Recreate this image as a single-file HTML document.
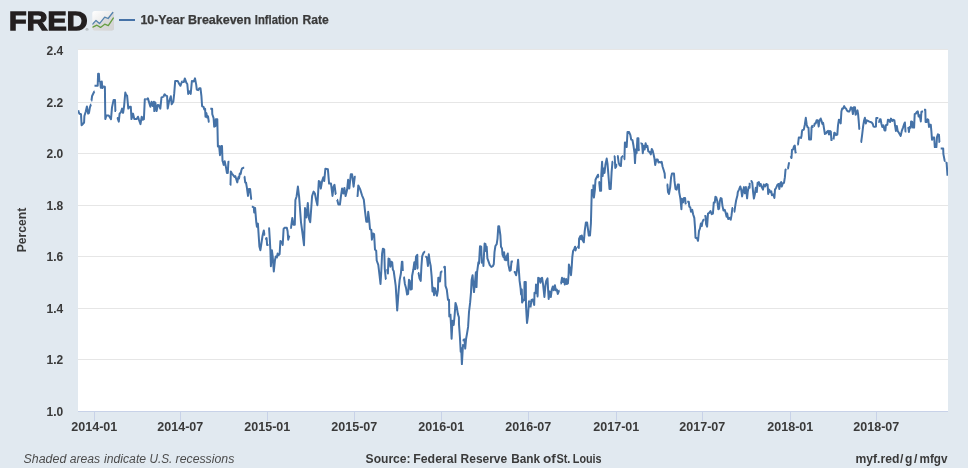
<!DOCTYPE html>
<html lang="en">
<head>
<meta charset="utf-8">
<title>10-Year Breakeven Inflation Rate</title>
<style>
html,body{margin:0;padding:0;background:#fff;}
body{width:968px;height:470px;overflow:hidden;}
svg{display:block;}
text{font-family:"Liberation Sans",sans-serif;}
.ax{font-size:12px;font-weight:bold;fill:#3a3a3a;}
.it{font-size:12px;font-style:italic;fill:#4c4c4c;}
</style>
</head>
<body>
<svg width="968" height="470" viewBox="0 0 968 470">
<defs>
<clipPath id="plotclip"><rect x="78" y="50" width="870" height="361"/></clipPath>
<clipPath id="iconclip"><rect x="92.3" y="11" width="21.7" height="19.6" rx="2.5" ry="2.5"/></clipPath>
<linearGradient id="ig" x1="0" y1="0" x2="0.9" y2="1"><stop offset="0" stop-color="#ffffff"/><stop offset="0.5" stop-color="#ececec"/><stop offset="1" stop-color="#d6d6d6"/></linearGradient>
</defs>
<rect x="0" y="0" width="968" height="470" fill="#ffffff"/>
<rect x="0" y="0" width="968" height="468" fill="#e1e9f0"/>
<rect x="78" y="50" width="870" height="361" fill="#ffffff"/>
<path d="M78 49.5 L948 49.5" stroke="#e6e6e6" stroke-width="1" fill="none"/>
<path d="M78 102.5 L948 102.5" stroke="#e6e6e6" stroke-width="1" fill="none"/>
<path d="M78 153.5 L948 153.5" stroke="#e6e6e6" stroke-width="1" fill="none"/>
<path d="M78 205.5 L948 205.5" stroke="#e6e6e6" stroke-width="1" fill="none"/>
<path d="M78 256.5 L948 256.5" stroke="#e6e6e6" stroke-width="1" fill="none"/>
<path d="M78 308.5 L948 308.5" stroke="#e6e6e6" stroke-width="1" fill="none"/>
<path d="M78 359.5 L948 359.5" stroke="#e6e6e6" stroke-width="1" fill="none"/>
<path d="M78 411.5 L948 411.5" stroke="#c8d2e8" stroke-width="1" fill="none"/>
<path d="M94.5 411 L94.5 421" stroke="#c8d2e8" stroke-width="1" fill="none"/>
<path d="M180.5 411 L180.5 421" stroke="#c8d2e8" stroke-width="1" fill="none"/>
<path d="M267.5 411 L267.5 421" stroke="#c8d2e8" stroke-width="1" fill="none"/>
<path d="M354.5 411 L354.5 421" stroke="#c8d2e8" stroke-width="1" fill="none"/>
<path d="M441.5 411 L441.5 421" stroke="#c8d2e8" stroke-width="1" fill="none"/>
<path d="M528.5 411 L528.5 421" stroke="#c8d2e8" stroke-width="1" fill="none"/>
<path d="M616.5 411 L616.5 421" stroke="#c8d2e8" stroke-width="1" fill="none"/>
<path d="M702.5 411 L702.5 421" stroke="#c8d2e8" stroke-width="1" fill="none"/>
<path d="M790.5 411 L790.5 421" stroke="#c8d2e8" stroke-width="1" fill="none"/>
<path d="M876.5 411 L876.5 421" stroke="#c8d2e8" stroke-width="1" fill="none"/>
<g clip-path="url(#plotclip)"><path d="M78.2 110.5 L78.7 111.7 M78.0 110.5 L79.5 113.8 L81.0 114.2 L81.6 125.3 L82.8 124.1 L84.1 122.5 L84.4 116.0 L85.7 111.7 L86.9 106.4 L88.1 113.6 L89.0 112.9 L89.9 107.4 L90.9 104.6 L91.2 104.6 M91.2 100.5 L91.5 100.5 L92.1 96.0 L94.3 91.5 L94.6 91.5 M94.5 85.8 L95.2 85.8 L97.7 85.8 L98.1 73.7 L98.9 73.7 L99.3 80.9 L100.2 81.9 L100.8 87.7 L101.8 81.5 L102.3 88.1 L103.0 87.2 M103.3 86.8 L103.5 86.5 L104.8 86.8 L104.9 86.9 L105.3 119.1 L106.4 115.4 L108.5 115.4 L109.5 116.7 L111.0 119.1 L112.0 107.4 L113.6 99.9 L115.0 99.9 L115.4 111.1 L116.0 111.1 M116.9 117.9 L117.5 117.9 L118.8 121.6 L119.6 113.6 L120.9 112.3 L122.1 108.6 L123.1 112.9 L124.1 106.1 L125.3 92.5 L126.2 95.0 L127.1 95.6 L128.3 108.6 L129.6 106.7 L130.8 106.7 L131.5 119.1 L133.0 113.6 L134.3 119.1 L136.7 119.1 L138.0 116.7 L139.0 119.8 L140.5 124.1 L141.7 116.7 L142.9 119.8 L143.9 119.1 L144.8 99.3 L145.9 99.3 M146.2 99.3 L146.7 99.3 L147.9 98.4 L149.1 102.4 L150.4 106.7 L151.6 101.8 L152.9 106.1 L153.9 101.8 L154.3 111.1 L155.3 102.4 L156.6 111.1 L157.8 104.9 L159.1 105.5 L160.3 108.6 L161.5 97.4 L163.0 96.9 M163.3 96.8 L163.4 96.8 L164.6 94.3 L165.9 95.6 L167.1 96.2 L167.7 108.6 L169.0 101.8 L170.8 96.2 L171.7 104.3 L173.3 101.8 L174.2 93.7 L175.2 80.9 L177.7 80.9 L178.9 83.4 L180.4 85.8 L182.0 81.5 L182.5 81.7 M182.8 81.8 L183.9 82.1 L184.8 78.4 L186.3 82.7 L187.3 84.0 L188.2 93.9 L189.4 91.4 L190.7 93.9 L191.9 80.9 L193.8 81.5 L195.0 78.4 L196.2 84.6 L196.8 89.6 L198.1 90.2 L199.3 88.3 L200.5 88.3 L201.4 95.8 L202.1 106.3 L203.6 106.9 L204.3 109.4 L205.1 108.8 L205.5 116.8 L206.4 113.1 L207.1 117.4 L208.0 116.2 L208.8 121.8 L209.4 121.8 M210.3 108.8 L210.8 108.8 L212.1 108.8 L212.3 114.3 L213.6 118.1 L214.2 126.7 L215.4 126.1 L215.8 119.3 L217.3 119.3 L217.9 146.6 L219.1 146.0 L220.0 155.2 L221.2 146.0 L222.0 146.0 L222.5 160.8 L222.9 161.8 L223.7 164.9 L224.7 161.2 L226.0 167.4 L226.9 172.9 L227.8 172.9 L228.4 161.8 L229.4 161.8 M230.3 185.0 L230.5 185.0 L230.8 171.4 L231.9 173.5 L233.2 175.2 L234.5 176.9 L235.3 176.1 L236.2 179.0 L237.3 182.4 L237.9 179.0 L238.5 176.9 L239.0 178.6 L239.8 173.5 L240.7 173.9 L241.3 170.5 L242.1 168.4 L243.6 167.8 L244.2 167.8 M244.1 176.7 L244.5 176.7 L245.2 182.5 L246.0 182.5 L246.8 187.2 L248.0 195.9 L248.9 189.0 L250.1 189.0 L251.2 199.0 L251.8 199.0 M251.8 206.8 L252.6 206.8 L253.8 207.4 L254.2 212.4 L255.1 208.1 L256.3 222.3 L256.9 226.7 L257.9 223.6 L258.8 237.2 L259.4 246.5 L260.4 250.2 L261.3 244.0 L262.5 236.0 L263.8 230.4 L264.4 234.7 L265.1 234.7 M265.1 238.7 L265.8 238.7 L266.6 238.1 L267.1 245.0 L268.1 245.0 L268.5 245.0 M268.4 228.3 L269.1 228.3 L269.8 239.2 L270.4 250.7 L270.9 266.3 L271.9 250.2 L272.7 256.5 L273.8 271.4 L275.0 259.9 L275.8 256.5 L276.4 257.7 M276.7 258.2 L277.6 253.6 L278.4 255.3 L279.6 254.2 L280.4 241.0 L281.9 242.1 L282.7 245.0 L283.6 228.9 L284.7 227.7 L286.8 227.7 L287.6 231.2 L288.2 239.8 L289.3 235.8 L289.4 235.8 M290.3 227.9 L291.0 227.9 L292.3 218.0 L293.5 224.8 L294.8 224.8 L295.4 200.0 L296.6 196.5 L297.9 186.6 L299.1 196.5 L301.0 222.3 L302.2 231.0 L304.0 245.2 L305.0 208.1 L306.5 217.4 L307.8 203.1 L309.0 218.6 L310.2 222.3 L311.2 208.7 L312.1 196.0 L313.6 191.6 L314.9 193.5 L316.1 199.7 L317.4 205.2 L318.8 181.1 L319.8 181.7 L320.8 188.5 L322.1 181.1 L323.3 177.4 L324.2 181.1 L325.4 168.7 L327.9 169.3 L329.1 183.6 L331.0 183.6 L332.5 196.0 L333.5 186.7 L334.5 184.8 L335.7 194.1 L336.1 194.1 M337.0 199.7 L337.2 199.7 L338.4 204.6 L339.9 204.6 L340.9 196.6 L342.1 188.5 L343.4 193.5 L344.4 187.9 L345.6 196.0 L347.1 189.8 L348.1 179.8 L349.3 188.5 L350.8 174.3 L352.1 174.3 L353.6 186.7 L354.8 176.7 L355.7 176.7 M356.6 196.0 L357.6 196.0 L358.3 185.4 L360.1 189.1 L362.0 195.3 L363.8 199.7 L365.1 211.8 L366.3 221.7 L367.6 221.7 L368.2 211.8 L369.2 219.8 L370.0 229.1 L371.3 229.8 L371.9 239.7 L372.9 233.5 L374.1 234.1 L375.0 249.6 L376.2 250.8 L376.7 260.5 L378.3 264.8 L379.6 276.0 L380.5 284.0 L381.3 271.0 L382.1 253.6 L382.9 248.7 L384.2 249.3 L384.8 269.1 L385.8 279.0 L386.2 279.0 M387.1 269.1 L387.9 273.5 L388.5 258.6 L389.5 259.2 L390.4 266.7 L391.2 261.7 L392.2 262.3 L392.9 269.8 L393.7 271.0 L394.7 278.4 L395.7 285.9 L397.2 310.4 L398.7 289.9 L399.7 279.7 L400.9 273.5 L401.9 261.7 L402.4 261.7 L402.8 271.0 L402.8 271.0 M403.7 277.2 L404.0 277.2 L404.9 284.0 L406.1 288.3 L407.1 294.5 L408.1 293.9 L409.0 279.7 L409.8 280.9 L410.6 289.6 L411.8 289.0 L412.1 276.0 L413.3 269.8 L414.3 262.3 L415.2 269.1 L416.0 256.7 L417.3 254.9 L417.6 268.5 L418.1 268.5 M418.0 272.9 L418.5 272.9 L419.5 278.4 L420.7 280.9 L421.4 266.7 L422.2 256.1 L423.5 253.0 L424.5 251.8 L425.2 251.8 M425.2 256.7 L425.7 256.7 L426.9 257.4 L427.9 266.0 L428.8 254.3 L429.7 261.1 L430.7 266.0 L431.7 277.2 L432.5 291.4 L433.4 287.7 L434.1 295.2 L435.0 288.3 L435.9 292.1 L436.9 295.8 L437.9 290.2 L438.3 277.8 L439.3 277.8 M439.7 279.7 L440.0 281.5 L440.8 272.2 L441.6 271.6 L442.4 271.6 M443.3 267.3 L443.7 267.3 L444.9 266.7 L445.5 285.9 L446.8 289.6 L448.0 299.8 L449.0 299.8 L449.3 316.6 L449.5 316.6 M450.4 313.9 L451.0 324.4 L451.6 338.7 L452.5 320.7 L453.7 325.0 L454.7 314.5 L455.5 302.9 L456.7 306.7 L457.9 314.1 L458.9 317.2 L459.0 324.4 L459.9 336.8 L460.7 351.7 L461.2 348.0 L461.9 364.1 L462.8 348.0 L463.2 344.2 M463.5 341.4 L463.6 339.9 L464.4 339.3 L465.2 348.6 L466.1 338.7 L467.1 333.1 L468.1 326.9 L469.0 312.0 L470.1 302.9 L471.0 292.4 L471.6 280.0 L472.6 275.3 L473.1 282.1 L474.0 292.1 L475.0 282.1 L475.9 272.2 L476.5 287.1 L477.1 272.2 L478.4 262.3 L479.0 263.6 L480.0 246.2 L481.2 246.7 L481.8 262.8 L482.4 262.8 M483.3 263.4 L483.4 265.9 L483.9 256.0 L484.6 243.6 L485.5 244.2 L485.9 251.0 L486.7 246.7 L487.4 258.4 L488.3 260.9 L489.8 265.2 L491.3 266.9 L492.9 266.1 L493.8 264.0 L494.5 252.2 L495.4 246.0 L496.7 244.2 L497.5 238.6 L498.3 226.2 L499.1 226.2 L500.4 235.5 L501.0 246.7 L502.0 248.5 L502.5 254.7 L503.5 257.2 L504.1 252.2 L504.7 259.7 L505.7 256.6 L506.2 260.3 L506.9 256.0 L507.8 253.5 L508.4 264.6 L509.7 270.8 L510.7 270.2 L511.5 261.5 L512.9 261.5 M513.8 272.1 L514.9 272.1 L516.1 275.2 L517.1 269.6 L518.1 259.7 L519.0 272.1 L519.6 280.9 L520.6 288.3 L521.1 294.5 L521.8 289.6 L522.1 302.6 L523.6 299.5 L524.3 300.1 L524.5 282.1 L525.8 282.1 L526.0 305.7 L527.0 323.0 L528.0 315.6 L528.9 302.0 L529.5 300.7 L529.6 300.7 M530.5 307.5 L531.4 300.1 L532.6 299.5 L533.5 302.0 L534.2 305.0 L534.5 292.7 L535.7 293.3 L536.0 284.6 L536.9 285.2 L537.6 296.4 L538.2 277.8 L539.4 278.4 L540.4 282.7 L541.3 278.4 L542.1 277.8 L543.1 284.6 L544.4 297.0 L545.4 285.8 L546.2 280.9 L547.5 278.4 L548.1 289.6 L548.7 298.9 L549.6 291.4 L550.8 297.0 L551.8 289.6 L552.8 286.5 L553.7 290.2 L554.9 285.2 L555.8 290.2 L556.8 289.6 L557.8 293.9 L559.0 290.8 L559.6 290.8 M560.5 283.4 L561.1 283.4 L562.0 277.8 L563.0 282.1 L564.0 278.4 L564.8 284.6 L566.1 279.0 L566.7 284.0 L567.9 283.4 L568.6 274.7 L568.9 264.6 L570.2 269.6 L571.0 275.2 L571.7 267.1 L572.3 257.2 L573.1 251.0 L574.1 249.1 L575.1 246.7 L575.6 250.4 L576.3 247.3 M577.2 246.7 L577.9 246.7 L578.8 247.9 L579.1 238.6 L580.3 236.1 L581.0 239.2 L581.8 235.5 L582.8 240.5 L583.8 242.3 L584.7 231.2 L585.9 222.5 L587.1 222.5 L588.0 229.3 L588.8 235.5 L590.0 235.5 L590.9 223.5 L591.4 204.9 L591.8 190.0 L592.5 190.0 M593.4 184.6 L593.4 184.6 L593.4 194.5 L593.9 197.6 L594.9 189.6 L595.5 179.7 L596.7 177.2 L598.0 174.7 L598.3 177.2 L598.7 177.2 M598.6 182.1 L599.2 182.1 L600.1 190.8 L601.1 190.8 L601.3 174.7 L602.1 161.7 L602.6 176.0 L603.6 168.5 L604.5 172.9 L605.4 164.8 L606.7 158.6 L607.5 163.6 L608.5 176.0 L609.5 189.0 L610.7 189.0 L611.6 172.2 L612.5 161.7 L613.0 161.7 M613.9 156.1 L614.1 156.1 L614.7 156.7 L615.3 167.9 L616.2 166.7 L616.3 163.6 M617.2 156.1 L617.8 156.1 L618.7 162.9 L619.7 165.4 L620.9 166.0 L621.5 157.4 L622.8 156.1 L623.0 156.1 M623.9 159.2 L624.4 159.2 L624.9 142.5 L626.0 142.7 L626.7 147.0 L627.5 132.1 L629.1 132.1 L630.4 135.2 L631.2 139.6 L632.5 140.2 L633.5 145.8 L634.5 153.2 L635.0 163.1 L635.7 149.5 L636.6 153.2 L637.4 138.3 L638.4 138.3 L638.7 150.1 L639.6 150.7 M640.5 143.3 L640.9 143.3 L642.1 143.9 L642.8 153.2 L643.6 145.8 L644.6 149.5 L645.6 143.3 L646.5 147.0 L647.4 145.8 L648.3 151.3 L649.6 152.0 L650.8 154.4 L651.8 148.9 L652.7 150.7 L653.6 154.4 L654.5 158.8 L655.2 165.0 L656.4 159.4 L657.6 159.4 L658.5 162.5 L659.5 161.9 L660.7 162.5 L661.7 161.9 L662.6 166.8 L663.8 170.5 L664.7 173.6 L664.9 177.8 L665.8 177.8 M666.7 184.6 L667.4 184.6 L668.0 192.1 L669.0 193.9 L670.2 187.1 L671.1 177.2 L672.0 173.5 L674.0 173.5 L674.5 180.9 L675.5 189.0 L676.7 189.6 L677.7 184.6 L678.9 184.6 L679.2 192.1 L680.2 197.6 L680.4 198.7 L681.4 209.2 L681.9 198.7 L683.1 202.4 L683.9 198.1 L685.1 198.1 L685.6 203.6 L686.3 203.0 M687.2 201.8 L687.9 201.8 L688.8 201.8 L689.3 206.7 L690.3 207.4 L691.0 211.7 L692.2 209.8 L693.1 214.2 L694.3 217.9 L695.0 227.2 L695.5 237.7 L697.1 238.3 L698.0 240.8 L699.0 230.9 L700.0 228.4 L700.9 223.5 L701.8 226.0 L702.4 222.2 L703.4 219.8 L704.4 219.8 M704.4 216.0 L704.6 216.0 L705.5 216.0 L706.1 224.1 L707.1 226.6 L708.0 213.6 L709.2 212.9 L710.5 211.1 L711.7 214.2 L712.9 213.6 L713.8 202.4 L714.8 202.4 L715.4 196.8 L716.3 197.4 L717.3 201.2 L718.3 209.2 L719.1 208.6 L719.8 201.2 L720.7 198.1 L721.6 198.7 L722.5 206.1 L723.5 210.5 L724.7 209.8 L725.7 212.9 L726.6 216.7 L727.2 213.6 L728.2 219.1 L729.4 217.9 L730.7 219.8 L731.5 215.4 L732.4 208.0 L733.0 208.0 M733.9 211.7 L734.4 211.7 L735.2 206.1 L736.1 200.5 L737.4 195.6 L737.8 192.1 L739.0 189.6 L740.3 186.5 L741.2 189.6 L742.1 196.4 L743.1 190.8 L744.0 187.1 L744.9 193.3 L745.9 187.1 L747.1 198.3 L747.7 192.1 L748.6 187.1 L749.6 187.7 L749.7 182.8 M750.6 180.9 L751.4 180.9 L752.3 182.8 L753.1 192.1 L753.9 198.6 L754.8 194.5 L755.8 187.7 L756.8 192.1 L757.6 182.8 L758.9 182.1 L759.8 185.9 L760.7 184.0 L761.7 187.1 L763.0 189.6 L763.8 184.6 L765.1 186.5 L766.3 184.0 L767.6 184.6 L768.2 193.9 L769.2 189.6 L770.4 192.1 L771.3 191.4 L771.9 195.2 L772.4 195.0 M771.7 194.2 L773.4 194.5 L774.4 198.0 L775.0 189.6 L776.2 187.7 L777.5 184.6 L778.7 184.0 L779.3 189.0 L780.3 183.4 L781.2 182.1 L781.8 186.5 L782.8 183.4 L784.0 182.8 L784.9 177.2 L785.5 169.8 L786.4 169.1 M787.3 168.5 L788.0 168.5 L789.0 162.9 L789.7 162.9 M790.6 156.1 L790.7 156.1 L791.5 158.0 L792.0 149.9 L793.2 149.3 L794.0 146.2 L794.8 145.6 L795.5 152.4 L796.4 151.8 M797.3 144.4 L798.0 144.4 L798.8 137.6 L800.0 137.4 L801.0 138.0 L801.5 136.1 L802.0 131.2 L802.3 130.2 L803.8 129.6 L804.8 124.7 L805.8 117.8 L806.7 124.7 L807.5 127.1 L808.5 127.8 L809.1 139.5 L811.0 139.5 L811.6 127.1 L812.2 125.9 L813.1 127.8 M814.0 125.9 L814.1 125.9 L814.7 123.4 L815.7 123.4 L816.6 120.3 L817.8 120.3 L818.7 126.5 L819.4 120.9 L820.7 118.5 L821.5 120.9 L822.4 124.0 L823.1 122.8 L824.0 128.4 L824.9 134.0 L826.1 133.3 L827.1 131.5 L828.1 130.9 L829.0 134.6 L829.8 130.9 L830.8 131.5 L831.4 140.1 L832.3 139.5 L832.6 139.5 M833.5 138.9 L833.6 138.9 L834.3 132.7 L835.2 133.3 L836.0 135.2 L837.3 134.6 L838.0 125.3 L838.9 119.7 L839.8 120.3 L840.7 123.4 L841.4 111.6 L842.2 108.5 L843.2 108.5 L844.2 106.1 L845.1 107.9 L846.0 108.5 L846.9 110.4 L848.2 111.6 L849.2 111.6 L850.0 109.8 L850.9 107.3 L851.9 107.9 L852.9 114.1 L853.8 107.3 L855.0 107.3 L855.6 114.7 L856.6 112.9 L857.5 110.4 L858.1 114.1 L858.7 120.9 L859.3 129.0 L859.8 129.0 M860.7 142.0 L861.2 142.0 L862.1 135.2 L863.1 126.5 L864.0 120.9 L864.9 117.8 L865.8 123.4 L866.8 120.3 L868.0 120.9 L869.3 121.6 L871.1 122.2 L871.8 122.6 L872.7 123.8 L873.5 126.6 L874.8 126.9 L875.9 126.6 L876.3 118.0 L878.0 117.9 L878.3 117.9 M878.3 122.0 L879.0 122.0 L879.9 119.2 L880.6 119.2 L881.4 123.7 L882.3 127.0 L883.4 125.3 L884.5 130.4 L885.4 130.4 L885.9 125.3 L887.3 124.8 L887.9 119.8 L889.2 120.3 L890.1 122.0 L891.0 118.6 L892.4 120.9 L893.5 119.8 L894.4 120.3 L895.1 125.9 L895.9 130.9 L896.8 125.9 L897.7 130.9 L899.0 133.1 L900.7 135.9 L901.8 130.9 L903.0 127.6 L904.1 124.2 L904.9 122.5 L905.5 131.5 L906.4 131.5 M907.4 128.1 L907.4 128.1 L908.5 128.1 L908.9 132.0 L909.6 127.0 L910.8 127.6 L911.1 121.4 L912.2 122.0 L913.0 127.6 L914.1 127.6 L914.7 114.2 L915.8 113.6 L916.9 111.9 L917.8 111.4 L918.6 116.4 L919.7 115.3 L920.8 121.4 L921.4 111.9 L922.3 111.4 L923.1 111.4 M924.0 109.7 L925.3 109.7 L925.6 122.0 L926.7 122.0 L927.5 119.2 L928.3 119.8 L929.0 127.0 L929.7 124.8 L930.8 124.8 L931.4 131.5 L932.0 139.8 L933.1 137.6 L934.2 137.6 L934.8 147.1 L936.4 147.1 L937.0 137.0 L937.9 134.3 L939.0 134.8 L939.4 142.1 L939.8 142.1 M940.7 148.5 L943.2 148.5 L943.4 154.1 L944.7 160.9 L945.5 160.9 M945.5 162.7 L946.6 162.7 L947.5 175.7" fill="none" stroke="#4572a7" stroke-width="2" stroke-linejoin="round" stroke-linecap="butt"/></g>
<text class="ax" x="63.3" y="55.2" text-anchor="end">2.4</text>
<text class="ax" x="63.3" y="107.2" text-anchor="end">2.2</text>
<text class="ax" x="63.3" y="158.2" text-anchor="end">2.0</text>
<text class="ax" x="63.3" y="210.2" text-anchor="end">1.8</text>
<text class="ax" x="63.3" y="261.2" text-anchor="end">1.6</text>
<text class="ax" x="63.3" y="313.2" text-anchor="end">1.4</text>
<text class="ax" x="63.3" y="364.2" text-anchor="end">1.2</text>
<text class="ax" x="63.3" y="416.2" text-anchor="end">1.0</text>
<text class="ax" x="71.3" y="431" textLength="46.0" lengthAdjust="spacingAndGlyphs">2014-01</text>
<text class="ax" x="157.3" y="431" textLength="46.0" lengthAdjust="spacingAndGlyphs">2014-07</text>
<text class="ax" x="244.3" y="431" textLength="46.0" lengthAdjust="spacingAndGlyphs">2015-01</text>
<text class="ax" x="331.3" y="431" textLength="46.0" lengthAdjust="spacingAndGlyphs">2015-07</text>
<text class="ax" x="418.3" y="431" textLength="46.0" lengthAdjust="spacingAndGlyphs">2016-01</text>
<text class="ax" x="505.3" y="431" textLength="46.0" lengthAdjust="spacingAndGlyphs">2016-07</text>
<text class="ax" x="593.3" y="431" textLength="46.0" lengthAdjust="spacingAndGlyphs">2017-01</text>
<text class="ax" x="679.3" y="431" textLength="46.0" lengthAdjust="spacingAndGlyphs">2017-07</text>
<text class="ax" x="767.3" y="431" textLength="46.0" lengthAdjust="spacingAndGlyphs">2018-01</text>
<text class="ax" x="853.3" y="431" textLength="46.0" lengthAdjust="spacingAndGlyphs">2018-07</text>
<text class="ax" x="-22.3" y="0" transform="translate(26.3 230) rotate(-90)" textLength="44.6" lengthAdjust="spacingAndGlyphs">Percent</text>
<text x="9.1" y="30.1" font-size="26.6" font-weight="bold" fill="#231f20" stroke="#231f20" stroke-width="1.3" stroke-linejoin="miter" textLength="78.4" lengthAdjust="spacingAndGlyphs">FRED</text>
<text x="85.6" y="31" font-size="4.2" fill="#555">®</text>
<rect x="92.3" y="11" width="21.7" height="19.6" rx="2.5" ry="2.5" fill="url(#ig)"/>
<g clip-path="url(#iconclip)"><path d="M92.3 24.5 L96 20.4 L99.5 23.6 L104.7 17.2 L108.1 18.5 L114 11.5 L114 31 L92.3 31 Z" fill="#d4d4d4" opacity="0.75"/><path d="M92.3 24.5 L96 20.4 L99.5 23.6 L104.7 17.2 L108.1 18.5 L113.2 12" fill="none" stroke="#5583ad" stroke-width="1.3" stroke-linejoin="round"/><path d="M92.3 27.4 L96.9 25.2 L100.5 27.4 L104.7 24.2 L108.3 25.7 L113.6 17.6" fill="none" stroke="#669e42" stroke-width="1.3" stroke-linejoin="round"/></g>
<path d="M119 20 L135 20" stroke="#4572a7" stroke-width="2" fill="none"/>
<text class="ax" y="24.2" stroke="#3a3a3a" stroke-width="0.25"><tspan x="140.4" textLength="44.2" lengthAdjust="spacingAndGlyphs">10-Year</tspan> <tspan x="188.0" textLength="63.2" lengthAdjust="spacingAndGlyphs">Breakeven</tspan> <tspan x="254.8" textLength="43.7" lengthAdjust="spacingAndGlyphs">Inflation</tspan> <tspan x="302.5" textLength="26.2" lengthAdjust="spacingAndGlyphs">Rate</tspan></text>
<text class="it" y="462.7"><tspan x="23.5" textLength="42.8" lengthAdjust="spacingAndGlyphs">Shaded</tspan> <tspan x="69.8" textLength="30.4" lengthAdjust="spacingAndGlyphs">areas</tspan> <tspan x="104.0" textLength="42.1" lengthAdjust="spacingAndGlyphs">indicate</tspan> <tspan x="149.5" textLength="22.9" lengthAdjust="spacingAndGlyphs">U.S.</tspan> <tspan x="175.6" textLength="58.7" lengthAdjust="spacingAndGlyphs">recessions</tspan></text>
<text class="ax" y="462.7"><tspan x="365.6" textLength="45.0" lengthAdjust="spacingAndGlyphs">Source:</tspan> <tspan x="413.2" textLength="43.9" lengthAdjust="spacingAndGlyphs">Federal</tspan> <tspan x="460.6" textLength="46.6" lengthAdjust="spacingAndGlyphs">Reserve</tspan> <tspan x="511.2" textLength="28.9" lengthAdjust="spacingAndGlyphs">Bank</tspan> <tspan x="543.0" textLength="12.8" lengthAdjust="spacingAndGlyphs">of</tspan> <tspan x="556.4" textLength="14.0" lengthAdjust="spacingAndGlyphs">St.</tspan> <tspan x="572.8" textLength="28.8" lengthAdjust="spacingAndGlyphs">Louis</tspan></text>
<text class="ax" y="462.7"><tspan x="855.4" textLength="44.0" lengthAdjust="spacingAndGlyphs">myf.red</tspan><tspan x="899.9 905.1 914.0">/g/</tspan><tspan x="919.5" textLength="28.0" lengthAdjust="spacingAndGlyphs">mfgv</tspan></text>
</svg>
</body>
</html>
